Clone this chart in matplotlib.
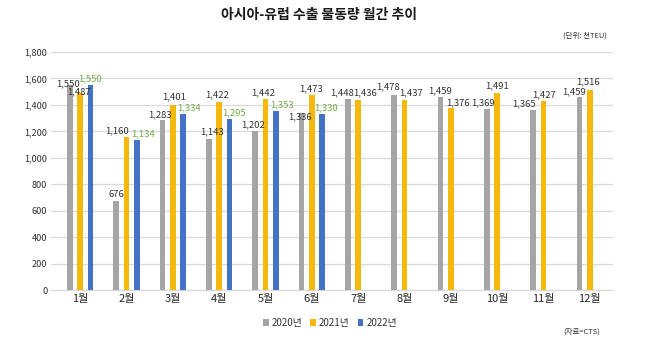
import matplotlib
matplotlib.use("Agg")
import matplotlib.pyplot as plt
import numpy as np

plt.rcParams['font.family'] = ['Noto Sans CJK KR', 'DejaVu Sans']

months = ['1월', '2월', '3월', '4월', '5월', '6월', '7월', '8월', '9월', '10월', '11월', '12월']
vol_2020 = [1550, 676, 1283, 1143, 1202, 1336, 1448, 1478, 1459, 1369, 1365, 1459]
vol_2021 = [1487, 1160, 1401, 1422, 1442, 1473, 1436, 1437, 1376, 1491, 1427, 1516]
vol_2022 = [1550, 1134, 1334, 1295, 1353, 1330]
series_names = ['2020년', '2021년', '2022년']
yticks = [0, 200, 400, 600, 800, 1000, 1200, 1400, 1600, 1800]

# label nudges in pixels (dx, dy) relative to bar top
nudge_2020 = [(-2, 1), (0, 6), (-2, 6), (3, 7), (-2, 6), (-1, -3),
              (-6, 6), (-6, 8), (0, 6), (-4, 6), (-9, 6), (-5, 5)]
nudge_2021 = [(-1, 2), (-9, 6), (1, 8), (-2, 7), (-2, 7), (-1, 6),
              (7, 7), (7, 7), (7, 5), (0, 7), (1, 7), (-2, 8)]
nudge_2022 = [(-1, 6), (6, 6), (6, 6), (4, 6), (6, 6), (4, 6)]

c_gray = '#A5A5A5'
c_yellow = '#F5B80C'
c_blue = '#4472C4'
c_green = '#70AD47'
c_text = '#333333'

fig = plt.figure(figsize=(6.49, 3.44), dpi=100)
ax = fig.add_axes([57 / 649, 54 / 344, 556 / 649, 238 / 344])

x = np.arange(len(months))
w = 0.125
off = 0.225

b20 = ax.bar(x - off, vol_2020, w, color=c_gray, label=series_names[0], zorder=3)
b21 = ax.bar(x, vol_2021, w, color=c_yellow, label=series_names[1], zorder=3)
b22 = ax.bar(x[:len(vol_2022)] + off, vol_2022, w, color=c_blue, label=series_names[2], zorder=3)


def put_labels(bars, vals, nudges, color):
    for b, v, (dx, dy) in zip(bars, vals, nudges):
        ax.annotate(f'{v:,}', (b.get_x() + b.get_width() / 2, v),
                    xytext=(dx, dy), textcoords='offset pixels',
                    ha='center', va='center', fontsize=6.8, color=color, zorder=5)


put_labels(b20, vol_2020, nudge_2020, c_text)
put_labels(b21, vol_2021, nudge_2021, c_text)
put_labels(b22, vol_2022, nudge_2022, c_green)

ax.set_xlim(-0.5, 11.5)
ax.set_ylim(0, 1800)
ax.set_yticks(yticks)
ax.set_yticklabels([f'{t:,}' for t in yticks], fontsize=6.6, color=c_text)
ax.set_xticks(x)
ax.set_xticklabels(months, fontsize=8, color='#262626')
ax.tick_params(axis='x', length=0, pad=3)
ax.tick_params(axis='y', length=5, color='#D9D9D9', pad=2)
ax.grid(axis='y', color='#D9D9D9', linewidth=0.9, zorder=0)
for s in ['top', 'right', 'left']:
    ax.spines[s].set_visible(False)
ax.spines['bottom'].set_color('#D9D9D9')
ax.spines['bottom'].set_linewidth(0.9)

fig.text(319 / 649, 1 - 15 / 344, '아시아-유럽 수출 물동량 월간 추이',
         ha='center', va='center', fontsize=10, fontweight='bold', color='#1a1a1a')
fig.text(585 / 649, 1 - 36 / 344, '(단위: 천TEU)', ha='center', va='center',
         fontsize=5.4, color=c_text)
fig.text(582 / 649, 1 - 332 / 344, '(자료=CTS)', ha='center', va='center',
         fontsize=5.4, color=c_text)

leg = fig.legend(handles=[b20, b21, b22], loc='center', bbox_to_anchor=(330 / 649, 1 - 323 / 344),
                 ncol=3, frameon=False, fontsize=7, handlelength=0.6, handleheight=0.6,
                 handletextpad=0.3, columnspacing=0.8, labelcolor=c_text)

fig.savefig('out.png', dpi=100)
